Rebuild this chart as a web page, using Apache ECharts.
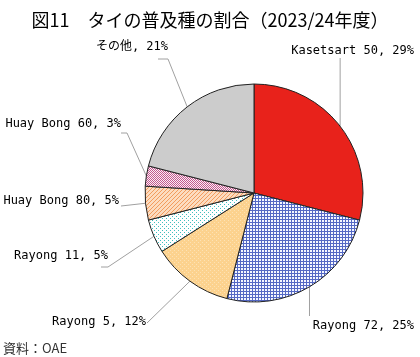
<!DOCTYPE html>
<html><head><meta charset="utf-8">
<style>html,body{margin:0;padding:0;background:#fff}#c{width:420px;height:357px}</style>
<script src="https://cdn.jsdelivr.net/npm/echarts@6/dist/echarts.min.js"></script>
</head><body><div id="c"></div>
<script>
const categories = ['Kasetsart 50', 'Rayong 72', 'Rayong 5', 'Rayong 11', 'Huay Bong 80', 'Huay Bong 60', 'その他'];
const values = [29, 25, 12, 5, 5, 3, 21];
// label anchor (right edge, vertical middle) and leader-line bends
const labelPos = [
  {x: 414, y: 51, bends: e => [[e[0], 58]]},
  {x: 414, y: 326, bends: e => [[e[0], 316]]},
  {x: 146, y: 322, bends: e => [[147, 323]]},
  {x: 108, y: 256, bends: e => [[108, 267], [101, 267]]},
  {x: 119, y: 201, bends: e => [[121, 206]]},
  {x: 121, y: 124, bends: e => [[127, 133], [121, 133]]},
  {x: 168, y: 47, bends: e => [[168, 59], [158, 59]]}
];

function pat(size, bg, draw) {
  const c = document.createElement('canvas');
  c.width = size; c.height = size;
  const g = c.getContext('2d');
  g.fillStyle = bg; g.fillRect(0, 0, size, size);
  draw(g);
  return c;
}
const grid = pat(3, '#f4f6ff', g => { g.fillStyle = '#5468c4'; g.fillRect(0, 0, 3, 1); g.fillRect(0, 0, 1, 3); });
const orangeDots = pat(4, '#fcd28e', g => { g.fillStyle = '#fde2b4'; g.fillRect(0, 0, 1, 1); g.fillRect(2, 2, 1, 1); });
const cyanDots = pat(4, '#ffffff', g => { g.fillStyle = '#3fbfbf'; g.fillRect(0, 0, 1, 1); g.fillRect(2, 2, 1, 1); });
const hatch = pat(4, '#fcdcc0', g => { g.fillStyle = '#f29c5e'; for (let i = 0; i < 4; i++) { g.fillRect(i, 3 - i, 1, 1); } });
const pinkHatch = pat(4, '#fbeef5', g => { g.fillStyle = '#c2588e'; g.fillRect(0, 0, 1, 1); g.fillRect(1, 1, 1, 1); g.fillRect(2, 0, 1, 1); g.fillRect(3, 1, 1, 1); g.fillRect(0, 2, 1, 1); g.fillRect(2, 2, 1, 1); g.fillRect(1, 3, 1, 1); g.fillRect(3, 3, 1, 1);});
const fills = ['#e8221b', {image: grid, repeat: 'repeat'}, {image: orangeDots, repeat: 'repeat'}, {image: cyanDots, repeat: 'repeat'}, {image: hatch, repeat: 'repeat'}, {image: pinkHatch, repeat: 'repeat'}, '#cccccc'];

const cx = 254, cy = 193, R = 109;
const total = values.reduce((a, b) => a + b, 0);
function edgePoint(i) {
  let before = 0;
  for (let k = 0; k < i; k++) before += values[k];
  const frac = (before + values[i] / 2) / total;
  const ang = (90 - frac * 360) * Math.PI / 180;
  return [cx + R * Math.cos(ang), cy - R * Math.sin(ang)];
}

const chart = echarts.init(document.getElementById('c'), null, {renderer: 'canvas'});
chart.setOption({
  animation: false,
  title: {
    text: '図11　タイの普及種の割合（2023/24年度）',
    left: 'center', top: 6,
    textStyle: {fontFamily: 'Noto Sans CJK JP', fontSize: 18, fontWeight: 'normal', color: '#000'}
  },
  graphic: [{type: 'text', left: 3, top: 342, style: {text: '資料：OAE', font: '13px "Noto Sans CJK JP"', fill: '#333'}}],
  series: [{
    type: 'pie',
    center: [cx, cy],
    radius: R,
    startAngle: 90,
    clockwise: true,
    data: categories.map((n, i) => ({name: n, value: values[i], itemStyle: {color: fills[i]}})),
    itemStyle: {borderColor: '#222', borderWidth: 1},
    label: {
      show: true,
      overflow: 'none',
      formatter: p => p.name + ', ' + p.value + '%',
      fontFamily: '"DejaVu Sans Mono", "Noto Sans CJK JP", monospace', fontSize: 12, color: '#000'
    },
    labelLine: {show: true, smooth: false, lineStyle: {color: '#a0a0a0', width: 1}},
    labelLayout: p => {
      const l = labelPos[p.dataIndex];
      const e = edgePoint(p.dataIndex);
      return {x: l.x, y: l.y, align: 'right', verticalAlign: 'middle', labelLinePoints: [e].concat(l.bends(e))};
    },
    emphasis: {disabled: true}
  }]
});
</script></body></html>
